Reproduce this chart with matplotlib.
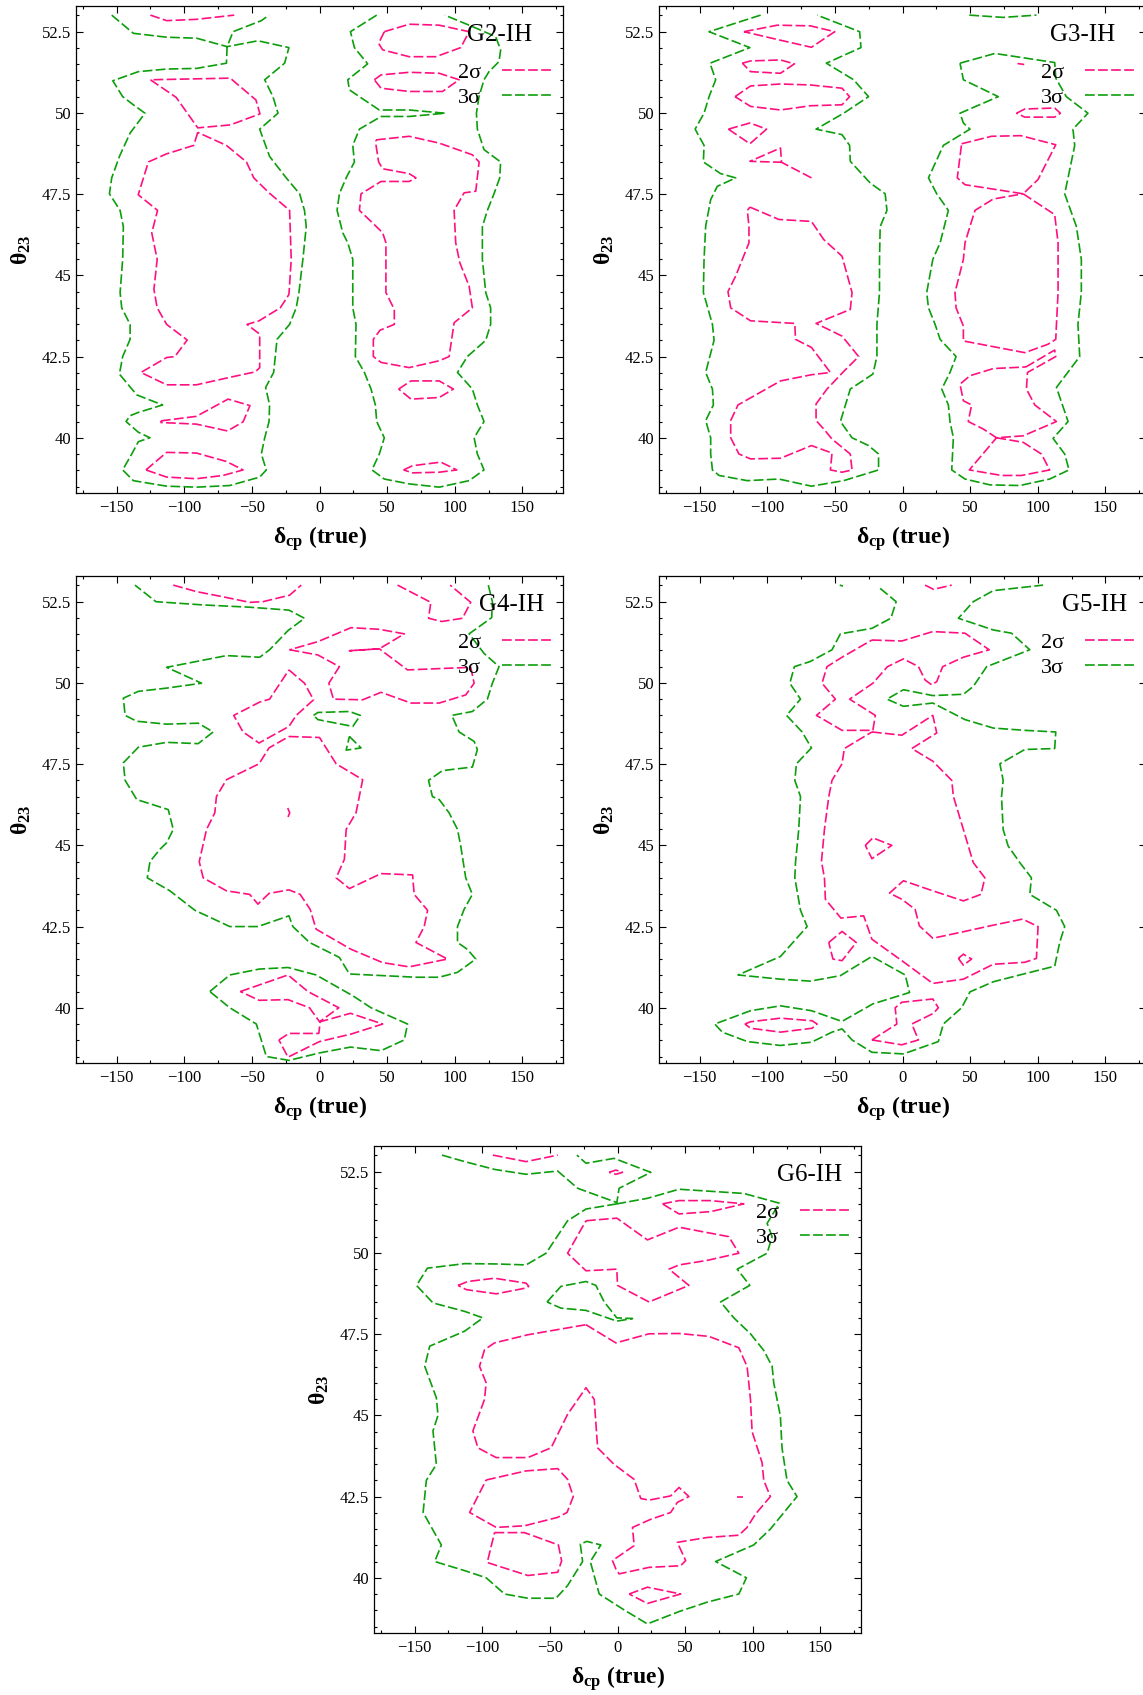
import matplotlib
matplotlib.use('Agg')
import matplotlib.pyplot as plt
from matplotlib.ticker import MultipleLocator, FuncFormatter

# contour traces: each curve is a list of (delta_cp, theta23) points

g2_sig2 = [
    [(-125, 53.01), (-113, 52.84), (-91, 52.88), (-63, 53.01)],
    [(-125, 51.02), (-106, 50.48), (-90, 49.54), (-66, 49.63), (-44, 49.97), (-47, 50.40), (-66, 51.07), (-125, 51.02)],
    [(-90, 49.40), (-93, 49.0), (-113, 48.74), (-126.5, 48.49), (-134, 47.48), (-119.7, 47.0), (-124, 46.31),
     (-120, 45.49), (-122.4, 44.57), (-120, 44.0), (-113, 43.49), (-97.8, 43.01), (-106.9, 42.50), (-113, 42.47),
     (-132, 42.01), (-113, 41.63), (-91, 41.63), (-66.3, 41.86), (-47.4, 42.03), (-44.2, 42.16), (-44.2, 43.19),
     (-53.6, 43.49), (-44.7, 43.60), (-29, 44.0), (-22.6, 44.41), (-20.9, 45.49), (-22.1, 47.0), (-37.3, 47.54),
     (-48.6, 48.0), (-54, 48.49), (-68.8, 49.0), (-90, 49.40)],
    [(-117.2, 40.52), (-91, 40.66), (-67.6, 41.19), (-51.4, 40.99), (-56.5, 40.49), (-68, 40.21), (-91, 40.42),
     (-117.2, 40.47), (-117.2, 40.52)],
    [(-128.3, 39.01), (-113, 39.55), (-91, 39.53), (-68.8, 39.27), (-56.5, 39.01), (-71.3, 38.84), (-91, 38.74),
     (-113, 38.79), (-128.3, 39.01)],
    [(47.9, 52.5), (66.3, 52.73), (88.5, 52.70), (110.6, 52.5), (104.4, 52.01), (86, 51.73), (66.3, 51.73),
     (46.7, 51.94), (43.7, 52.14), (47.9, 52.5)],
    [(40.5, 51.02), (45.5, 51.17), (66.3, 51.25), (88.5, 51.22), (103.2, 51.02), (90.9, 50.66), (66.3, 50.66),
     (45.5, 50.76), (40.5, 51.02)],
    [(41.8, 49.17), (66.3, 49.28), (88.5, 49.07), (113, 48.71), (118, 48.49), (115.5, 47.59), (106.9, 47.54),
     (99.5, 47.0), (100.7, 46.0), (103.7, 45.39), (110.6, 44.67), (113, 44.0), (99.5, 43.54), (95.8, 42.50),
     (88.5, 42.37), (66.3, 42.16), (45.5, 42.32), (39.8, 42.50), (39.8, 43.03), (44.7, 43.31), (55.3, 43.49),
     (55.3, 43.95), (49.1, 44.47), (49.1, 46.0), (46.7, 46.31), (41.8, 46.51), (29.5, 47.0), (30.7, 47.51),
     (45.5, 47.89), (66.3, 47.89), (71.3, 48.0), (66.3, 48.13), (46.7, 48.28), (43.7, 48.49), (41.8, 49.0),
     (41.8, 49.17)],
    [(58.5, 41.50), (67.6, 41.75), (88.5, 41.75), (99, 41.50), (88.5, 41.24), (67.6, 41.19), (58.5, 41.50)],
    [(62.2, 39.01), (68.8, 39.14), (89.7, 39.25), (101.5, 39.01), (88.5, 38.94), (68.8, 38.92), (62.2, 39.01)],
]

g2_sig3 = [
    [(-153.6, 53.01), (-137.6, 52.45), (-113, 52.33), (-90.9, 52.30), (-68.3, 52.04), (-45.5, 52.22),
     (-22.6, 52.01), (-25.8, 51.53), (-40.5, 51.02), (-34.4, 50.50), (-30.7, 49.99), (-44.2, 49.50),
     (-36.9, 48.66), (-24.6, 48.0), (-14.7, 47.51), (-11.1, 47.0), (-9.8, 46.50), (-12.3, 45.49),
     (-15.2, 44.47), (-17.2, 44.0), (-22.1, 43.49), (-31.4, 43.03), (-33.9, 42.01), (-39.8, 41.55),
     (-36.9, 41.01), (-37.3, 40.50), (-40.5, 40.0), (-43, 39.50), (-39.3, 39.01), (-44.2, 38.79),
     (-66.3, 38.53), (-90.9, 38.48), (-113, 38.51), (-137.6, 38.68), (-145.5, 39.01), (-138.8, 39.50),
     (-133.9, 39.88), (-125.3, 40.0), (-133.9, 40.17), (-143, 40.50), (-140, 40.68), (-133.9, 40.78),
     (-116, 41.01), (-135.1, 41.32), (-147.9, 41.96), (-145.5, 42.50), (-140, 43.03), (-140, 43.49),
     (-146.2, 44.0), (-147.4, 44.47), (-145.5, 45.49), (-145, 46.50), (-147.4, 47.0), (-155.3, 47.51),
     (-153.6, 48.0), (-147.9, 48.66), (-140, 49.38), (-129, 49.99), (-137.6, 50.25), (-145.5, 50.50),
     (-152.8, 50.99), (-133.9, 51.27), (-113, 51.35), (-90.9, 51.37), (-68.8, 51.53), (-68.3, 52.04),
     (-63.9, 52.5), (-43, 52.84), (-37.3, 53.01)],
    [(42.3, 53.01), (22.9, 52.5), (25.8, 52.01), (35.6, 51.51), (20.9, 51.02), (22.1, 50.71), (29.5, 50.50),
     (44.2, 50.09), (66.3, 50.09), (92.9, 49.99), (66.3, 49.89), (45.5, 49.89), (29.5, 49.50), (24.6, 49.0),
     (25.8, 48.49), (19.7, 48.0), (14.7, 47.51), (13, 47.0), (17.2, 46.31), (20.9, 46.0), (24.6, 45.49),
     (24.6, 44.47), (24.6, 44.0), (27, 43.49), (26.5, 42.50), (33.2, 42.01), (38.1, 41.50), (41.3, 41.01),
     (42.3, 40.50), (47.9, 40.0), (44.2, 39.50), (38.8, 39.01), (47.9, 38.73), (66.3, 38.58), (88.5, 38.48),
     (110.6, 38.68), (121.6, 39.01), (116.7, 39.50), (114.3, 40.0), (121.6, 40.50), (116.7, 41.01),
     (113, 41.50), (102, 42.01), (109.3, 42.50), (122.9, 43.0), (126.5, 43.49), (126.5, 44.0), (122.9, 44.47),
     (120.4, 45.49), (120.4, 46.50), (124.1, 47.0), (129, 47.51), (133.2, 48.0), (133.9, 48.49),
     (121.6, 48.87), (116.7, 49.50), (116, 49.99), (117.9, 50.50), (121.6, 51.02), (125.3, 51.27),
     (132.7, 51.58), (133.9, 51.94), (130.2, 52.35), (110.6, 52.70), (92.6, 53.01)],
]

g3_sig2 = [
    [(-117.2, 52.5), (-92.6, 52.70), (-68.1, 52.68), (-50.1, 52.5), (-67.3, 52.02), (-92.6, 52.26), (-117.2, 52.5)],
    [(-118.4, 51.53), (-112.3, 51.60), (-90.2, 51.63), (-79.9, 51.51), (-90.2, 51.22), (-112.3, 51.27),
     (-118.4, 51.53)],
    [(-123.8, 50.5), (-112.3, 50.83), (-90.2, 50.89), (-68.1, 50.86), (-44.7, 50.76), (-39.1, 50.5),
     (-44.7, 50.25), (-68.1, 50.22), (-90.2, 50.09), (-112.3, 50.20), (-123.8, 50.5)],
    [(-128.7, 49.5), (-112.8, 49.69), (-100.5, 49.5), (-112.8, 49.05), (-128.7, 49.5)],
    [(-67.3, 48.0), (-89.4, 48.48), (-90.2, 48.92), (-112.8, 48.51), (-89.4, 48.48)],
    [(-112.8, 47.10), (-91.4, 46.72), (-67.3, 46.66), (-58.2, 46.10), (-44.7, 45.59), (-37.3, 44.47),
     (-38.6, 43.95), (-63.9, 43.52), (-44.7, 43.13), (-32.4, 42.50), (-43.5, 42.04), (-55.8, 41.50),
     (-63.9, 41.04), (-63.9, 40.53), (-58.2, 40.27), (-52.1, 39.96), (-38.6, 39.50), (-37.3, 39.01),
     (-44.7, 38.94), (-53.3, 39.01), (-52.1, 39.53), (-67.3, 39.76), (-90.2, 39.37), (-112.3, 39.35),
     (-120.9, 39.50), (-127, 40.0), (-127, 40.53), (-121.6, 41.01), (-90.2, 41.75), (-67.3, 41.94),
     (-53.3, 42.01), (-67.3, 42.78), (-79.1, 43.03), (-79.6, 43.52), (-112.3, 43.60), (-127, 44.0),
     (-129, 44.50), (-123.3, 44.98), (-113.5, 46.0), (-113.5, 46.51), (-114.7, 47.0), (-112.8, 47.10)],
    [(85, 51.52), (90, 51.49)],
    [(84.3, 49.99), (90.4, 50.12), (112.5, 50.15), (116.7, 49.99), (112.5, 49.87), (90.4, 49.87), (84.3, 49.99)],
    [(43.7, 49.05), (65.8, 49.28), (87.5, 49.30), (113.3, 49.02), (106.4, 48.46), (100.2, 47.95), (89.2, 47.51),
     (46.2, 47.79), (40.5, 48.0), (43.7, 49.05)],
    [(89.2, 47.51), (112.5, 46.87), (115, 46.0), (115, 44.47), (113.8, 43.49), (113.3, 43.03), (107.6, 42.88),
     (90.4, 42.62), (45, 42.98), (45, 43.44), (39.6, 44.0), (38.8, 44.47), (45, 45.49), (46.2, 46.0),
     (49.9, 46.51), (53.6, 47.0), (67.1, 47.35), (89.2, 47.51)],
    [(91.2, 42.18), (112.5, 42.70), (113.3, 42.50), (92.4, 42.01), (91.6, 41.50), (97.8, 41.01), (113.8, 40.50),
     (89.2, 40.06), (69.5, 40.0), (59.7, 40.27), (48.6, 40.50), (51.1, 41.01), (45, 41.14), (42.5, 41.65),
     (49.9, 41.91), (67.1, 42.13), (91.2, 42.18)],
    [(69.5, 40.0), (89.2, 39.86), (102.7, 39.50), (108.8, 39.01), (88, 38.84), (73.2, 38.84), (49.4, 39.01),
     (69.5, 40.0)],
]

g3_sig3 = [
    [(-104.9, 53.01), (-143, 52.5), (-112.8, 52.01), (-142.3, 51.53), (-138.1, 51.02), (-143, 50.50),
     (-146.7, 49.99), (-153.3, 49.50), (-146.7, 49.0), (-147.2, 48.49), (-134.4, 48.13), (-123.3, 48.0),
     (-136.9, 47.74), (-141.8, 47.33), (-145.5, 46.51), (-146.7, 45.49), (-147.2, 44.47), (-140.5, 43.49),
     (-139.3, 43.0), (-145.5, 42.01), (-140.5, 41.50), (-139.8, 41.01), (-145.5, 40.53), (-141.8, 40.0),
     (-141.8, 39.50), (-140.5, 39.01), (-135.6, 38.84), (-114.7, 38.68), (-91.4, 38.73), (-67.3, 38.51),
     (-43.5, 38.68), (-17.7, 39.01), (-17.7, 39.50), (-25.1, 39.76), (-37.3, 40.0), (-45.9, 40.50),
     (-38.6, 41.50), (-21.9, 41.96), (-18.9, 42.50), (-18.9, 43.49), (-17, 44.47), (-17, 45.49),
     (-16.5, 46.50), (-11.5, 47.0), (-12.8, 47.51), (-23.8, 47.84), (-38.6, 48.51), (-39.1, 49.0),
     (-44.7, 49.33), (-63.9, 49.50), (-43.5, 49.99), (-25.1, 50.50), (-36.1, 51.02), (-56.3, 51.53),
     (-30.7, 52.01), (-31.7, 52.5), (-63.1, 53.01)],
    [(49.4, 53.01), (74.4, 52.94), (99, 53.01)],
    [(42.5, 51.53), (68.3, 51.83), (112.5, 51.55), (113.3, 51.07), (121.1, 50.50), (137.1, 49.99), (126, 49.50),
     (127.3, 49.0), (124.8, 48.49), (119.9, 47.51), (128.5, 46.51), (132.2, 45.49), (132.2, 44.47),
     (129.7, 43.49), (131, 42.50), (113.8, 41.55), (122.4, 40.50), (111.3, 39.98), (119.9, 39.50),
     (123.1, 39.01), (108.8, 38.73), (86.7, 38.53), (64.6, 38.55), (46.2, 38.73), (36.4, 39.01), (37.6, 40.0),
     (35.1, 40.50), (33.9, 41.01), (29, 41.50), (35.1, 42.01), (39.6, 42.50), (27.8, 43.03), (24.1, 43.49),
     (19.2, 44.0), (17.9, 44.47), (22.4, 45.49), (27.8, 46.0), (33.9, 47.0), (25.3, 47.51), (19.2, 48.0),
     (30.2, 49.0), (49.9, 49.50), (45, 49.69), (42.5, 49.99), (70.8, 50.50), (45, 51.02), (42.5, 51.53)],
]

g4_sig2 = [
    [(-108.1, 53.01), (-90.9, 52.81), (-71.3, 52.65), (-51.6, 52.48), (-41.8, 52.5), (-22.1, 52.70), (-13.5, 53.01)],
    [(57.7, 53.01), (82.3, 52.48), (80.6, 51.99), (90.4, 51.89), (105.7, 51.99), (111.8, 52.48), (96.6, 53.01)],
    [(-22.1, 51.02), (-1.2, 50.86), (14.7, 50.50), (6.9, 49.99), (10.3, 49.50), (31.9, 49.48), (45.5, 49.71),
     (67.6, 49.38), (88.5, 49.38), (108.1, 49.63), (114.3, 49.99), (111.8, 50.48), (65.1, 50.40), (44.2, 51.05),
     (22.1, 50.99), (44.2, 51.05), (62.7, 51.51), (44.2, 51.65), (23.3, 51.70), (-1.2, 51.27), (-22.1, 51.02)],
    [(-22.6, 50.40), (-11.1, 49.99), (-4.4, 49.48), (-17.2, 49.0), (-22.6, 48.66), (-44.7, 48.15), (-56.5, 48.49),
     (-63.4, 49.0), (-44.2, 49.41), (-36.9, 49.50), (-22.6, 50.40)],
    [(-22.6, 48.35), (0, 48.32), (12.3, 47.51), (31.9, 47.02), (27, 46.0), (19.7, 45.49), (18.4, 44.57),
     (12.3, 44.0), (22.1, 43.67), (45.5, 44.13), (68.8, 44.09), (70, 43.49), (79.9, 43.0), (77.4, 42.50),
     (71.3, 42.01), (94.6, 41.50), (66.3, 41.26), (46.7, 41.39), (23.3, 41.80), (-2.5, 42.42), (-6.9, 43.03),
     (-14.3, 43.49), (-22.6, 43.63), (-37.3, 43.52), (-45.5, 43.19), (-51.6, 43.49), (-68.8, 43.60),
     (-86, 44.0), (-88.9, 44.50), (-83.5, 45.49), (-77.4, 46.0), (-76.2, 46.50), (-68.8, 47.02),
     (-44.7, 47.51), (-37.3, 48.0), (-22.6, 48.35)],
    [(-23.5, 46.15), (-22, 46.0), (-23.5, 45.85)],
    [(-58.5, 40.50), (-23.3, 41.01), (-8.6, 40.50), (14.3, 40.0), (0, 39.57), (-7.4, 40.0), (-23.3, 40.25),
     (-44.7, 40.23), (-58.5, 40.50)],
    [(-30, 39.01), (-22.6, 39.21), (-0.5, 39.21), (0.5, 39.57), (22.9, 39.83), (46.7, 39.50), (23.3, 39.19),
     (0, 38.96), (-23.3, 38.48), (-30, 39.01)],
]

g4_sig3 = [
    [(124.8, 53.01), (127.8, 52.5), (127.3, 52.01), (110.6, 51.51), (121.6, 50.91), (132.7, 50.50),
     (127.8, 49.99), (124.1, 49.50), (113, 49.12), (97.8, 49.0), (103.2, 48.49), (114.3, 48.20),
     (116.7, 47.95), (113, 47.41), (90.9, 47.30), (80.6, 47.0), (83.5, 46.50), (88.5, 46.41), (95.8, 46.0),
     (102, 45.49), (104.4, 44.98), (108.1, 44.0), (113, 43.49), (106.9, 43.03), (102, 42.50), (102, 42.01),
     (109.3, 41.80), (115.5, 41.50), (102, 41.09), (88.5, 40.94), (71.3, 40.94), (46.7, 40.99), (22.1, 41.04),
     (14.7, 41.55), (-7.4, 42.01), (-19.7, 42.50), (-22.6, 42.83), (-45.5, 42.50), (-66.3, 42.50),
     (-92.1, 43.0), (-110.6, 43.60), (-127.3, 44.0), (-125.3, 44.50), (-117.9, 44.88), (-113, 45.08),
     (-108.1, 45.49), (-111.8, 46.10), (-135.1, 46.41), (-143.7, 47.0), (-145, 47.54), (-133.9, 48.02),
     (-113, 48.17), (-89.7, 48.13), (-78.6, 48.49), (-89.7, 48.76), (-113, 48.73), (-135.1, 48.82),
     (-143.7, 49.0), (-145, 49.53), (-133.9, 49.74), (-113, 49.84), (-87.2, 49.99), (-113, 50.48),
     (-68.8, 50.84), (-44.2, 50.79), (-36.9, 51.02), (-23.3, 51.61), (-11.1, 51.99), (-22.6, 52.24),
     (-51.6, 52.33), (-86, 52.40), (-120.9, 52.5), (-136.4, 53.01)],
    [(-4.4, 49.0), (-1.2, 49.09), (22.1, 49.12), (30.2, 49.0), (24.6, 48.66), (-1.2, 48.87), (-4.4, 49.0)],
    [(22.1, 48.35), (30.7, 48.0), (19.7, 47.93), (22.1, 48.35)],
    [(-81.1, 40.50), (-66.3, 41.01), (-44.7, 41.19), (-23.3, 41.24), (-2.5, 41.01), (24.6, 40.37), (38.1, 40.0),
     (65.1, 39.50), (62.7, 39.01), (45.5, 38.68), (22.9, 38.79), (0, 38.61), (-22.6, 38.38), (-39.3, 38.50),
     (-46.7, 39.50), (-66.3, 40.0), (-81.1, 40.50)],
]

g5_sig2 = [
    [(16.7, 53.01), (22.9, 52.88), (36.4, 53.01)],
    [(-22.6, 51.32), (-0.5, 51.29), (22.4, 51.58), (46.2, 51.53), (64.1, 51.02), (45, 50.79), (29.7, 50.50),
     (25.3, 50.04), (21.6, 49.94), (16.7, 50.09), (11.8, 50.50), (0.7, 50.74), (-11.1, 50.50), (-21.9, 49.99),
     (-39.1, 49.50), (-20.1, 49.0), (-21.9, 48.54), (-44.7, 48.54), (-63.6, 49.0), (-49.6, 49.50),
     (-59.5, 49.99), (-55.8, 50.50), (-44.7, 50.79), (-22.6, 51.32)],
    [(-22.6, 48.49), (-0.5, 48.39), (22.4, 49.0), (25.3, 48.46), (6.9, 47.98), (22.4, 47.59), (36.4, 47.0),
     (37.6, 46.51), (41.3, 46.0), (45, 45.49), (52.3, 44.47), (60.9, 44.0), (58, 43.49), (45, 43.29),
     (22.4, 43.60), (0.7, 43.91), (-9.6, 43.53), (-0.5, 43.34), (9.3, 43.03), (12.5, 42.52), (22.4, 42.14),
     (45, 42.34), (64.6, 42.52), (88.7, 42.73), (100.2, 42.50), (99, 41.52), (90.4, 41.40), (67.1, 41.34),
     (45, 40.88), (22.4, 40.75), (-0.5, 41.45), (-22.6, 42.11), (-28.7, 42.83), (-45.5, 42.76), (-57, 43.34),
     (-57.7, 44.0), (-59.9, 44.50), (-57.7, 45.49), (-54.5, 46.50), (-52.1, 47.0), (-44.7, 47.51),
     (-43, 47.98), (-22.6, 48.49)],
    [(-27.5, 45.0), (-21.9, 45.23), (-7.9, 45.0), (-22.6, 44.59), (-27.5, 45.0)],
    [(-54.5, 42.01), (-44.7, 42.35), (-34.2, 42.01), (-44.7, 41.45), (-51.4, 41.50), (-54.5, 42.01)],
    [(41.3, 41.52), (45, 41.65), (51.1, 41.50), (45, 41.31), (41.3, 41.52)],
    [(-116.5, 39.50), (-112.3, 39.57), (-90.2, 39.68), (-66.8, 39.60), (-63.1, 39.50), (-66.8, 39.37),
     (-90.2, 39.25), (-112.3, 39.37), (-116.5, 39.50)],
    [(-22.6, 39.01), (-4.2, 39.50), (-5.4, 40.0), (-0.5, 40.17), (22.4, 40.27), (26.5, 40.0), (22.9, 39.83),
     (6.9, 39.50), (11.8, 39.01), (-0.5, 38.86), (-22.6, 39.01)],
]

g5_sig3 = [
    [(-46.4, 53.01), (-44, 52.98)],
    [(-16.5, 52.91), (-4.7, 52.5), (-8.6, 51.99), (-22.6, 51.68), (-45.9, 51.51), (-52.1, 51.02), (-68.1, 50.66),
     (-79.9, 50.50), (-83.3, 49.99), (-75.4, 49.50), (-85.7, 49.0), (-74.2, 48.49), (-67.3, 48.0),
     (-78.4, 47.51), (-79.6, 47.0), (-75.4, 46.50), (-76.7, 45.49), (-79.1, 44.47), (-79.6, 44.0),
     (-75.4, 43.0), (-70.5, 42.50), (-90.2, 41.58), (-121.6, 41.01), (-90.2, 40.88), (-68.1, 40.82),
     (-45.9, 40.99), (-22.6, 41.58), (2, 41.01), (5.2, 40.47), (-21.9, 40.12), (-44.7, 39.58), (-67.3, 39.91),
     (-90.2, 40.06), (-112.3, 39.91), (-138.8, 39.50), (-133.2, 39.25), (-114.7, 38.96), (-90.2, 38.84),
     (-67.3, 38.94), (-52.1, 39.25), (-44.7, 39.35), (-37.3, 39.01), (-22.6, 38.63), (0.7, 38.58),
     (26.5, 38.96), (30.2, 39.50), (43.7, 40.0), (49.9, 40.49), (67.1, 40.80), (86.7, 41.01), (112.5, 41.28),
     (116.2, 42.01), (119.9, 42.50), (113.8, 43.0), (94.1, 43.49), (95.3, 44.0), (86.7, 44.47), (78.1, 44.98),
     (74.4, 45.49), (73.2, 46.50), (74.4, 47.0), (72, 47.51), (90.4, 47.95), (112.5, 47.98), (113.3, 48.49),
     (90.4, 48.54), (67.1, 48.61), (46.2, 48.87), (22.4, 49.38), (0.7, 49.28), (-11.5, 49.50), (0.7, 49.79),
     (22.4, 49.61), (45, 49.65), (52.3, 49.89), (62.2, 50.50), (94.1, 51.02), (80.6, 51.53), (67.1, 51.63),
     (41.3, 51.99), (52.3, 52.5), (67.1, 52.84), (103.9, 53.01)],
]

g6_sig2 = [
    [(-92.1, 53.01), (-67.6, 52.81), (-44.2, 53.01)],
    [(-6.1, 52.48), (-1.2, 52.55), (3.7, 52.48), (-1.2, 52.42), (-6.1, 52.48)],
    [(33.2, 51.51), (45.5, 51.61), (68.8, 51.61), (93.4, 51.51), (68.8, 51.27), (45.5, 51.20), (33.2, 51.51)],
    [(-23.3, 50.99), (-0.5, 51.07), (22.1, 50.40), (45.5, 50.79), (82.3, 50.50), (89.7, 49.99), (66.3, 49.77),
     (45.5, 49.63), (38.1, 49.50), (52.8, 49.0), (23.3, 48.49), (0, 49.0), (-0.5, 49.50), (-23.3, 49.45),
     (-36.9, 49.99), (-23.3, 50.99)],
    [(-117.9, 49.0), (-110.6, 49.12), (-90.9, 49.22), (-67.6, 49.07), (-65.6, 48.97), (-67.6, 48.92),
     (-89.7, 48.74), (-111.8, 48.87), (-117.9, 49.0)],
    [(-23.3, 47.79), (-1.2, 47.23), (23.3, 47.51), (45.5, 47.52), (67.6, 47.43), (89.7, 47.08), (95.8, 46.50),
     (98.3, 45.49), (99.5, 44.50), (106.9, 43.54), (108.1, 43.0), (113, 42.50), (102, 41.96), (95.8, 41.55),
     (89.7, 41.31), (66.3, 41.24), (44.2, 41.09), (50.4, 40.53), (46.7, 40.37), (23.3, 40.32), (1.2, 40.12),
     (-1.2, 40.27), (-3.7, 40.53), (12.3, 40.99), (11.1, 41.55), (24.6, 41.80), (39.3, 42.01), (44.2, 42.32),
     (52.8, 42.50), (45.5, 42.78), (39.3, 42.52), (23.3, 42.39), (17.2, 42.44), (12.3, 43.03), (-2.5, 43.49),
     (-14.7, 44.0), (-17.2, 45.49), (-23.3, 45.85), (-36.9, 45.03), (-49.1, 44.0), (-66.3, 43.70),
     (-89.7, 43.70), (-103.2, 44.0), (-106.9, 44.52), (-98.3, 45.49), (-97.1, 46.0), (-102, 46.51),
     (-98.3, 47.02), (-90.9, 47.23), (-66.3, 47.48), (-44.2, 47.64), (-23.3, 47.79)],
    [(88, 42.5), (92.9, 42.5)],
    [(-97.1, 43.01), (-67.6, 43.29), (-44.2, 43.36), (-36.9, 43.03), (-32.7, 42.50), (-37.3, 42.01),
     (-44.2, 41.86), (-68.8, 41.60), (-89.7, 41.55), (-109.3, 42.01), (-97.1, 43.01)],
    [(-90.9, 41.39), (-68.8, 41.39), (-43.7, 41.01), (-41.3, 40.52), (-44.2, 40.17), (-66.3, 40.07),
     (-96.3, 40.47), (-90.9, 41.39)],
    [(8.6, 39.50), (22.1, 39.71), (46.7, 39.50), (22.1, 39.21), (8.6, 39.50)],
]

g6_sig3 = [
    [(-129.7, 53.01), (-113, 52.81), (-90.9, 52.57), (-67.6, 52.42), (-44.2, 52.52), (-29.5, 51.99),
     (-0.5, 51.55), (1.2, 51.99), (24.6, 52.48), (-2.5, 52.91), (-23.3, 52.76), (-30, 53.01)],
    [(-0.5, 51.51), (-23.3, 51.35), (-36.9, 50.99), (-52.8, 49.99), (-67.6, 49.63), (-89.7, 49.66),
     (-113, 49.67), (-140.5, 49.53), (-148.6, 49.0), (-136.4, 48.46), (-113, 48.20), (-99.5, 48.0),
     (-113, 47.59), (-138.8, 47.13), (-142.5, 46.51), (-133.9, 45.54), (-132.7, 45.0), (-136.4, 44.52),
     (-133.9, 43.49), (-141.3, 43.0), (-143.7, 42.01), (-130.2, 41.01), (-135.1, 40.50), (-113, 40.22),
     (-97.1, 40.0), (-83.5, 39.50), (-66.3, 39.37), (-45.5, 39.37), (-36.9, 39.76), (-25.8, 40.50),
     (-27.5, 41.04), (-22.6, 41.12), (-12.3, 41.01), (-20.1, 40.50), (-13.5, 39.50), (4.9, 39.01),
     (22.1, 38.58), (45.5, 38.96), (66.3, 39.25), (89.7, 39.50), (95.3, 40.0), (72.5, 40.50), (100.7, 41.01),
     (113, 41.50), (132.7, 42.50), (125.3, 43.0), (121.6, 44.0), (120.4, 44.98), (115.5, 46.0),
     (114.3, 46.51), (108.1, 47.0), (98.3, 47.51), (86, 48.0), (76.2, 48.49), (97.8, 49.0), (88.5, 49.50),
     (110.6, 49.99), (114.3, 50.50), (110.6, 50.91), (119.7, 51.53), (93.4, 51.83), (45.5, 51.96),
     (22.1, 51.68), (-0.5, 51.51)],
    [(-52.1, 48.49), (-41.8, 48.97), (-23.3, 49.12), (-16, 49.0), (-9.8, 48.49), (-0.5, 48.0), (11.1, 47.98),
     (-0.5, 47.90), (-23.3, 48.23), (-41.8, 48.30), (-52.1, 48.49)],
]

panel_names = ['G2-IH', 'G3-IH', 'G4-IH', 'G5-IH', 'G6-IH']
panel_sig2 = [g2_sig2, g3_sig2, g4_sig2, g5_sig2, g6_sig2]
panel_sig3 = [g2_sig3, g3_sig3, g4_sig3, g5_sig3, g6_sig3]

PINK = '#ff1080'
GREEN = '#0c9e0c'
DASH = (7, 2.4)

plt.rcParams['font.family'] = ['Liberation Serif', 'DejaVu Serif']
plt.rcParams['lines.scale_dashes'] = False
plt.rcParams['mathtext.fontset'] = 'custom'
plt.rcParams['mathtext.rm'] = 'Liberation Serif:bold'
plt.rcParams['mathtext.it'] = 'Liberation Serif:bold'
plt.rcParams['mathtext.bf'] = 'Liberation Serif:bold'

W, H = 1143, 1695
fig = plt.figure(figsize=(W / 100, H / 100), dpi=100)

# axes boxes in pixels: left, top
boxes = [(76, 5.7), (659, 5.7), (76, 575.7), (659, 575.7), (374, 1145.7)]
AW, AH = 487, 487.3
title_x = [0.869, 0.869, 0.895, 0.895, 0.895]

for i, (left, top) in enumerate(boxes):
    ax = fig.add_axes([left / W, 1 - (top + AH) / H, AW / W, AH / H])
    h2 = h3 = None
    for curve in panel_sig3[i]:
        xs, ys = zip(*curve)
        ln, = ax.plot(xs, ys, color=GREEN, lw=1.2, dashes=DASH)
        h3 = h3 or ln
    for curve in panel_sig2[i]:
        xs, ys = zip(*curve)
        ln, = ax.plot(xs, ys, color=PINK, lw=1.2, dashes=DASH)
        h2 = h2 or ln

    ax.set_xlim(-180, 180)
    ax.set_ylim(38.3, 53.3)
    ax.xaxis.set_major_locator(MultipleLocator(50))
    ax.xaxis.set_minor_locator(MultipleLocator(25))
    ax.yaxis.set_major_locator(MultipleLocator(2.5))
    ax.yaxis.set_minor_locator(MultipleLocator(0.5))
    ax.yaxis.set_major_formatter(FuncFormatter(lambda v, p: f'{v:g}'))
    ax.tick_params(which='both', direction='in', top=True, right=True, width=0.8, labelsize=12)
    ax.tick_params(which='major', length=5)
    ax.tick_params(which='minor', length=2.5)
    ax.tick_params(axis='x', pad=5)
    ax.tick_params(axis='y', pad=3.5)
    for sp in ax.spines.values():
        sp.set_linewidth(0.9)

    ax.set_xlabel(r'$\delta_{cp}$ (true)', fontsize=17, fontweight='bold')
    ax.xaxis.set_label_coords(0.5, -0.064)
    ax.set_ylabel(r'$\theta_{23}$', fontsize=17, fontweight='bold')
    ax.yaxis.set_label_coords(-0.088, 0.5)

    ax.text(title_x[i], 0.94, panel_names[i], transform=ax.transAxes,
            ha='center', va='center', fontsize=18)
    ax.legend([h2, h3], ['2σ', '3σ'], loc='upper right', bbox_to_anchor=(0.977, 0.884),
              frameon=False, markerfirst=False, fontsize=16, handlelength=2.25,
              handletextpad=0.95, labelspacing=0.19, borderpad=0, borderaxespad=0)

fig.savefig('out.png', dpi=100)
